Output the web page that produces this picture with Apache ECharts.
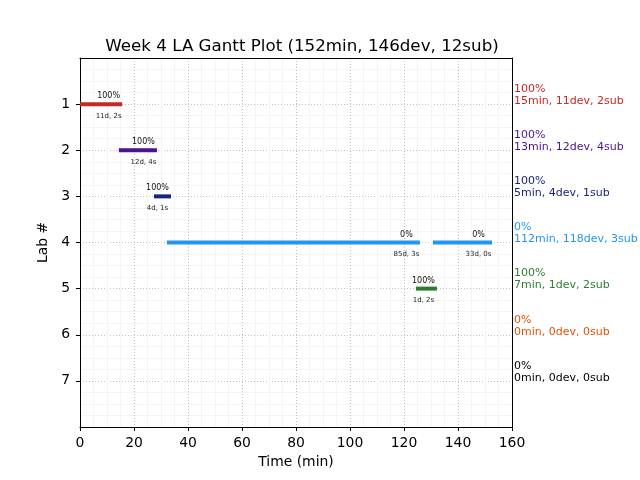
<!DOCTYPE html>
<html><head><meta charset="utf-8">
<script src="https://cdn.jsdelivr.net/npm/echarts@6/dist/echarts.min.js"></script>
<style>html,body{margin:0;padding:0;background:#fff}#c{width:640px;height:480px}</style>
</head><body><div id="c"></div>
<script>
var labs = [1, 2, 3, 4, 5, 6, 7];
var labColors = ['#c62828', '#4a148c', '#1a237e', '#2196f3', '#2e7d32', '#e65100', '#000000'];
var labPct = ['100%', '100%', '100%', '0%', '100%', '0%', '0%'];
var labStats = ['15min, 11dev, 2sub', '13min, 12dev, 4sub', '5min, 4dev, 1sub', '112min, 118dev, 3sub', '7min, 1dev, 2sub', '0min, 0dev, 0sub', '0min, 0dev, 0sub'];
// segments: lab, start, end, pct, detail
var segLab = [1, 2, 3, 4, 4, 5];
var segStart = [0, 14.4, 27.4, 32.2, 130.7, 124.4];
var segEnd = [15.6, 28.5, 33.7, 125.9, 152.6, 132.2];
var segPct = ['100%', '100%', '100%', '0%', '0%', '100%'];
var segDetail = ['11d, 2s', '12d, 4s', '4d, 1s', '85d, 3s', '33d, 0s', '1d, 2s'];
var xTicks = [0, 20, 40, 60, 80, 100, 120, 140, 160];
var titleText = 'Week 4 LA Gantt Plot (152min, 146dev, 12sub)';

var FONT = 'DejaVu Sans';
var segData = segLab.map(function (l, i) { return [segStart[i], segEnd[i], l, i]; });
var rightData = labs.map(function (l, i) { return [160, l, i]; });

var borderAxisX = {
  type: 'value', position: 'top', min: 0, max: 160,
  axisLine: { show: true, onZero: false, lineStyle: { color: '#000' } },
  axisTick: { show: false }, axisLabel: { show: false }, splitLine: { show: false }
};
var borderAxisY = {
  type: 'value', position: 'right', min: 0, max: 8, inverse: true,
  axisLine: { show: true, onZero: false, lineStyle: { color: '#000' } },
  axisTick: { show: false }, axisLabel: { show: false }, splitLine: { show: false }
};

var chart = echarts.init(document.getElementById('c'));
chart.setOption({
  animation: false,
  title: { text: titleText, left: 297, top: 33, textAlign: 'center',
    textStyle: { fontFamily: FONT, fontSize: 16.7, fontWeight: 'normal', color: '#000' } },
  grid: { left: 80, right: 128, top: 58, bottom: 53 },
  xAxis: [{
    type: 'value', min: xTicks[0], max: xTicks[xTicks.length - 1], interval: 20,
    name: 'Time (min)', nameLocation: 'middle', nameGap: 28,
    nameTextStyle: { fontFamily: FONT, fontSize: 13.9, color: '#000' },
    axisLine: { show: true, onZero: false, lineStyle: { color: '#000' } },
    axisTick: { show: true, length: 4, lineStyle: { color: '#000' } },
    axisLabel: { fontFamily: FONT, fontSize: 13.9, color: '#000', margin: 9 },
    splitLine: { show: true, lineStyle: { color: '#c0c0c0', type: [1, 2] } },
    minorTick: { show: false, splitNumber: 4 },
    minorSplitLine: { show: true, lineStyle: { color: '#f4f4f4' } }
  }, borderAxisX],
  yAxis: [{
    type: 'value', min: 0, max: 8, interval: 1, inverse: true,
    name: 'Lab #', nameLocation: 'middle', nameGap: 26, nameRotate: 90,
    nameTextStyle: { fontFamily: FONT, fontSize: 13.9, color: '#000' },
    axisLine: { show: true, onZero: false, lineStyle: { color: '#000' } },
    axisTick: { show: true, length: 4, customValues: labs, lineStyle: { color: '#000' } },
    axisLabel: { fontFamily: FONT, fontSize: 13.9, color: '#000', margin: 10, customValues: labs },
    splitLine: { show: true, lineStyle: { color: '#c0c0c0', type: [1, 2] } },
    minorTick: { show: false, splitNumber: 4 },
    minorSplitLine: { show: true, lineStyle: { color: '#f4f4f4' } }
  }, borderAxisY],
  series: [
    {
      type: 'custom', clip: false, data: segData,
      renderItem: function (params, api) {
        var s = api.value(0), e = api.value(1), l = api.value(2), i = api.value(3);
        var p0 = api.coord([s, l]), p1 = api.coord([e, l]);
        var lp = api.coord([e - 5, l]);
        var col = labColors[labs.indexOf(l)];
        return { type: 'group', children: [
          { type: 'line', shape: { x1: p0[0], y1: p0[1], x2: p1[0], y2: p1[1] },
            style: { stroke: col, lineWidth: 4 } },
          { type: 'text', x: lp[0], y: p0[1] - 8,
            style: { text: segPct[i], fill: '#111', font: '8px ' + FONT, align: 'center', verticalAlign: 'middle' } },
          { type: 'text', x: lp[0], y: p0[1] + 12,
            style: { text: segDetail[i], fill: '#222', font: '7px ' + FONT, align: 'center', verticalAlign: 'middle' } }
        ] };
      }
    },
    {
      type: 'custom', clip: false, data: rightData,
      renderItem: function (params, api) {
        var l = api.value(1), i = api.value(2);
        var p = api.coord([160, l]);
        return { type: 'group', children: [
          { type: 'text', x: p[0] + 2, y: p[1] - 15,
            style: { text: labPct[i], fill: labColors[i], font: '11px ' + FONT, align: 'left', verticalAlign: 'middle' } },
          { type: 'text', x: p[0] + 2, y: p[1] - 3,
            style: { text: labStats[i], fill: labColors[i], font: '11px ' + FONT, align: 'left', verticalAlign: 'middle' } }
        ] };
      }
    }
  ]
});
</script></body></html>
